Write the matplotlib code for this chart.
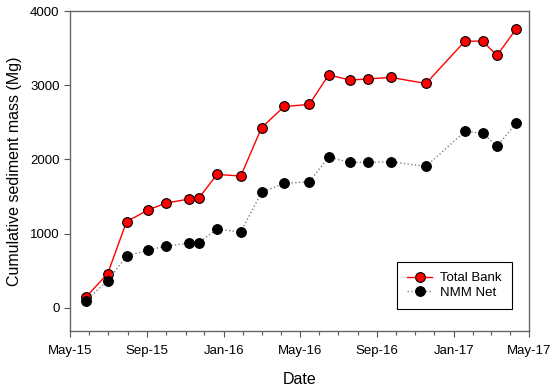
import datetime as dt
import matplotlib
matplotlib.use("Agg")
import matplotlib.pyplot as plt
import matplotlib.dates as mdates

plt.rcParams['font.family'] = ['Liberation Sans', 'DejaVu Sans']

dates = ['2015-05-26', '2015-06-30', '2015-07-30', '2015-09-03', '2015-10-01',
         '2015-11-06', '2015-11-22', '2015-12-21', '2016-01-28', '2016-03-01',
         '2016-04-06', '2016-05-16', '2016-06-16', '2016-07-20', '2016-08-18',
         '2016-09-23', '2016-11-18', '2017-01-19', '2017-02-16', '2017-03-11',
         '2017-04-11']
total_bank = [144, 462, 1162, 1323, 1413, 1467, 1476, 1799, 1777, 2427, 2714,
              2741, 3140, 3069, 3086, 3105, 3024, 3594, 3594, 3401, 3764]
nmm_net = [98, 367, 700, 781, 834, 871, 879, 1063, 1023, 1557, 1678,
           1700, 2032, 1961, 1961, 1969, 1907, 2378, 2355, 2180, 2490]

x = [dt.datetime.strptime(d, '%Y-%m-%d') for d in dates]

fig = plt.figure(figsize=(5.5, 3.9), dpi=100)
ax = fig.add_axes([70 / 550, 1 - 331 / 390, 459 / 550, 320 / 390])

ax.plot(x, total_bank, color='red', linestyle='-', linewidth=1,
        marker='o', markersize=7, markerfacecolor='red',
        markeredgecolor='black', markeredgewidth=0.8, label='Total Bank')
ax.plot(x, nmm_net, color='gray', linestyle=':', linewidth=1,
        marker='o', markersize=7, markerfacecolor='black',
        markeredgecolor='black', markeredgewidth=0.8, label='NMM Net')

ax.set_xlim(dt.datetime(2015, 5, 1), dt.datetime(2017, 5, 1))
ax.set_ylim(-310, 4000)
ax.set_yticks([0, 1000, 2000, 3000, 4000])
ax.xaxis.set_major_locator(mdates.MonthLocator(bymonth=[1, 5, 9]))
ax.xaxis.set_minor_locator(mdates.MonthLocator())
ax.xaxis.set_major_formatter(mdates.DateFormatter('%b-%y'))

ax.tick_params(axis='both', which='major', labelsize=9.5, length=4, width=0.8,
               color='#555555', direction='out')
ax.tick_params(axis='x', which='major', pad=6)
ax.tick_params(axis='x', which='minor', length=3, width=0.8, color='#555555')
for s in ax.spines.values():
    s.set_color('#666666')
    s.set_linewidth(1)

ax.set_xlabel('Date', fontsize=11.5, labelpad=11)
ax.set_ylabel('Cumulative sediment mass (Mg)', fontsize=11.5, labelpad=6)

leg = ax.legend(loc='lower right', bbox_to_anchor=(0.962, 0.069), fontsize=9.5,
                fancybox=False, edgecolor='black', framealpha=1,
                handlelength=1.9, borderpad=0.75, labelspacing=0.2,
                handletextpad=0.6, borderaxespad=0)
leg.get_frame().set_linewidth(0.8)

fig.savefig('out.png', dpi=100)
